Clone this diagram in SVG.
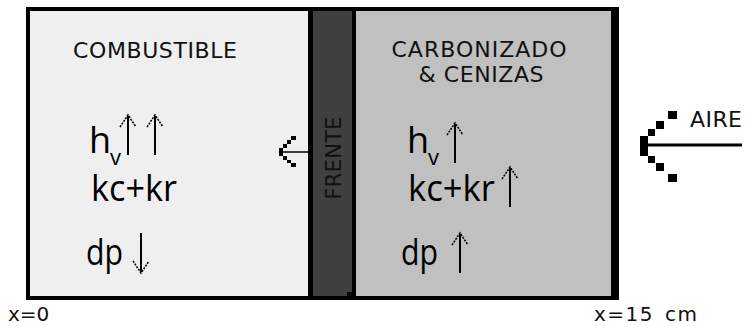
<svg xmlns="http://www.w3.org/2000/svg" width="752" height="326" viewBox="0 0 752 326">
<style>
.lbl{font-family:"DejaVu Sans",Verdana,sans-serif;font-size:22px;fill:#111}
.big{font-family:"Open Sans","Noto Sans",sans-serif;font-size:36px;font-weight:500;fill:#000}
.sub{font-size:22px}
.shaft{stroke:#000;stroke-width:2;fill:none}
.head{stroke:#000;stroke-width:1.6;fill:none;stroke-dasharray:2 1.2}
.px{fill:#000}
</style>
<rect x="0" y="0" width="752" height="326" fill="#fff"/>
<g id="outer">
<rect x="26" y="7" width="593" height="293" fill="#000"/>
</g>
<g id="combustible">
<rect x="30" y="11" width="278" height="285" fill="#efefef"/>
<text class="lbl" x="155" y="58" text-anchor="middle" textLength="164">COMBUSTIBLE</text>
<text class="big" x="89" y="153">h<tspan class="sub" dx="-1" dy="12">v</tspan></text>
<text class="big" x="91" y="201" textLength="86" lengthAdjust="spacingAndGlyphs">kc+kr</text>
<text class="big" x="86" y="265" textLength="37" lengthAdjust="spacingAndGlyphs">dp</text>
</g>
<g id="frente">
<rect x="308" y="11" width="48" height="285" fill="#000"/>
<rect x="313" y="11" width="39" height="285" fill="#404040"/>
<rect x="347" y="292" width="14" height="4" fill="#000"/>
<text class="lbl" transform="translate(341,158) rotate(-90)" text-anchor="middle" fill="#1a1a1a" style="font-size:21px" textLength="83">FRENTE</text>
</g>
<g id="carbonizado">
<rect x="356" y="11" width="255" height="285" fill="#c0c0c0"/>
<text class="lbl" x="479" y="57" text-anchor="middle" textLength="175">CARBONIZADO</text>
<text class="lbl" x="481" y="82" text-anchor="middle" textLength="125">&amp; CENIZAS</text>
<text class="big" x="407" y="153">h<tspan class="sub" dx="-1" dy="12">v</tspan></text>
<text class="big" x="408" y="201" textLength="87" lengthAdjust="spacingAndGlyphs">kc+kr</text>
<text class="big" x="401" y="265" textLength="37" lengthAdjust="spacingAndGlyphs">dp</text>
</g>
<g id="aire">
<text class="lbl" x="690" y="127" textLength="52">AIRE</text>
</g>
<g id="x0"><text class="lbl" x="8" y="321" style="font-size:20px">x=0</text></g>
<g id="x15"><text class="lbl" x="594" y="321" style="font-size:20px;letter-spacing:1.5px;word-spacing:3px">x=15 cm</text></g>
<g id="connectors">
<path class="shaft" d="M128 155V116"/><path class="head" d="M120 127L128 115L136 127"/>
<path class="shaft" d="M155 155V116"/><path class="head" d="M147 127L155 115L163 127"/>
<path class="shaft" d="M141 233V272"/><path class="head" d="M133 261L141 273L149 261"/>
<path class="shaft" d="M455 163V124"/><path class="head" d="M447 135L455 123L463 135"/>
<path class="shaft" d="M510 207V168"/><path class="head" d="M502 179L510 167L518 179"/>
<path class="shaft" d="M460 273V234"/><path class="head" d="M452 245L460 233L468 245"/>
<path d="M308 152H281" stroke="#000" stroke-width="1.5"/>
<path class="px" d="M291 136h5v4h-5zM287 140h4v4h-4zM283 144h4v4h-4zM279 148h4v8h-4zM283 156h4v4h-4zM287 160h4v3h-4zM291 163h5v4h-5z"/>
<path d="M648 145H742" stroke="#000" stroke-width="3"/>
<path class="px" d="M640 136h8v20h-8zM648 129h7v7h-7zM656 121h8v8h-8zM668 111h9v8h-9zM648 156h7v7h-7zM656 163h8v8h-8zM668 174h9v8h-9z"/>
</g>
</svg>
